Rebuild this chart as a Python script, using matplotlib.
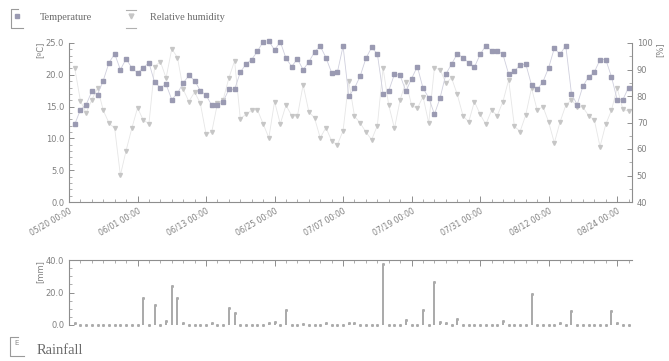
import numpy as np
import pandas as pd
import matplotlib
matplotlib.use("Agg")
import matplotlib.pyplot as plt
import matplotlib.dates as mdates
from matplotlib.lines import Line2D

# ---------------- data ----------------
start_date = "2015-05-21"
n_days = 98
temperature = [12.2, 14.5, 15.3, 17.4, 16.9, 19.1, 21.9, 23.3, 20.8, 22.5,
               21.1, 20.3, 21.1, 21.9, 18.8, 18.0, 18.5, 16.1, 17.1, 18.7,
               19.9, 19.1, 17.5, 16.8, 15.2, 15.3, 15.8, 17.7, 17.7, 20.4,
               21.7, 22.4, 23.7, 25.2, 25.3, 23.9, 25.2, 22.6, 21.3, 22.5,
               20.8, 22.0, 23.6, 24.5, 22.7, 20.3, 20.4, 24.5, 16.6, 17.9,
               19.8, 22.6, 24.3, 23.3, 17.0, 17.5, 20.1, 19.9, 17.4, 19.4,
               21.3, 17.9, 16.4, 13.8, 16.4, 20.1, 21.7, 23.3, 22.7, 21.9,
               21.2, 23.2, 24.6, 23.8, 23.8, 23.2, 20.1, 20.6, 21.5, 21.7,
               18.4, 17.7, 18.9, 21.1, 24.2, 23.2, 24.6, 17.0, 15.3, 18.2,
               19.7, 20.4, 22.4, 22.4, 19.7, 16.1, 16.1, 18.0]
humidity = [90.6, 78.2, 73.6, 78.6, 83.0, 74.6, 69.8, 67.8, 50.1, 59.4,
            67.8, 75.5, 71.0, 69.5, 91.1, 93.0, 86.8, 97.8, 94.5, 82.5,
            77.9, 81.5, 77.2, 65.7, 66.4, 77.2, 78.6, 86.8, 93.3, 71.4,
            73.1, 74.6, 74.8, 69.5, 64.2, 77.9, 69.5, 76.5, 72.6, 72.4,
            84.2, 74.1, 71.7, 64.2, 68.1, 63.0, 61.6, 66.9, 85.6, 72.4,
            69.8, 66.4, 63.5, 68.8, 90.6, 76.5, 67.8, 78.6, 85.4, 76.5,
            75.3, 79.8, 69.8, 90.6, 89.9, 84.9, 86.8, 80.6, 72.6, 70.2,
            77.9, 73.1, 69.3, 74.6, 72.6, 77.9, 86.1, 68.6, 66.6, 72.9,
            83.0, 74.6, 76.0, 70.2, 62.3, 70.2, 76.5, 78.6, 76.0, 75.8,
            72.6, 71.0, 60.9, 69.3, 74.6, 83.0, 75.0, 74.3]
rainfall = [1.5, 0, 0, 0, 0, 0, 0, 0, 0, 0,
            0, 0, 16.8, 0, 12.3, 0, 2.7, 24.0, 16.4, 1.0,
            0, 0, 0, 0, 1.0, 0, 0, 10.2, 7.2, 0,
            0, 0, 0, 0, 1.5, 2.0, 0, 9.2, 0, 0,
            0.5, 0, 0, 0, 1.2, 0, 0, 0, 1.5, 1.0,
            0, 0, 0, 0, 37.5, 0, 0, 0, 3.0, 0,
            0, 9.2, 0, 26.7, 2.0, 1.0, 0, 3.5, 0, 0,
            0, 0, 0, 0, 0, 2.5, 0, 0, 0, 0,
            18.9, 0, 0, 0, 0, 1.0, 0, 8.6, 0, 0,
            0, 0, 0, 0, 8.6, 1.0, 0, 0]
tick_start = "2015-05-20"
tick_step_days = 12
n_ticks = 9

dates = pd.date_range(start_date, periods=n_days, freq="D")
tick_dates = pd.date_range(tick_start, periods=n_ticks, freq=f"{tick_step_days}D")
x0 = pd.Timestamp(tick_start)
x1 = x0 + pd.Timedelta(days=98.6)

# ---------------- style ----------------
W, H = 669, 361
fig = plt.figure(figsize=(W / 100, H / 100), dpi=100)
spine_c = "#8e8e8e"
lab_c = "#808080"
temp_c = "#9a9ab2"
temp_line = "#cfcfdd"
hum_c = "#c6c6c6"
hum_line = "#e6e6e6"
rain_c = "#ababab"

def fx(px):
    return px / W

def fy(py):
    return 1 - py / H

# ---------------- top panel ----------------
ax = fig.add_axes([fx(69), fy(202), fx(632) - fx(69), fy(43) - fy(202)])
ax2 = ax.twinx()

ax2.plot(dates, humidity, color=hum_line, lw=0.6, zorder=1)
ax2.plot(dates, humidity, ls="none", marker="v", ms=2.8, mfc=hum_c, mec=hum_c,
         clip_on=False, zorder=2)
ax.plot(dates, temperature, color=temp_line, lw=0.6, zorder=3)
ax.plot(dates, temperature, ls="none", marker="s", ms=2.3, mfc=temp_c, mec=temp_c,
        clip_on=False, zorder=4)
ax.set_zorder(ax2.get_zorder() + 1)
ax.patch.set_visible(False)

ax.set_xlim(x0, x1)
ax.set_ylim(0, 25)
ax2.set_ylim(40, 100)
ax.set_yticks(np.arange(0, 25.1, 5))
ax.set_yticks(np.arange(0, 25.1, 1), minor=True)
ax.set_yticklabels([f"{v:.1f}" for v in np.arange(0, 25.1, 5)])
ax2.set_yticks(np.arange(40, 101, 10))
ax2.set_yticks(np.arange(40, 101, 5), minor=True)

ax.set_xticks(tick_dates)
ax.xaxis.set_minor_locator(mdates.DayLocator(interval=2))
ax.xaxis.set_major_formatter(mdates.DateFormatter("%m/%d %H:%M"))
for lbl in ax.get_xticklabels():
    lbl.set_rotation(30)
    lbl.set_ha("right")
    lbl.set_rotation_mode("anchor")

for a in (ax, ax2):
    a.spines["top"].set_visible(False)
    for s in a.spines.values():
        s.set_color(spine_c)
        s.set_linewidth(0.8)
ax.spines["right"].set_visible(False)
ax2.spines["left"].set_visible(False)
ax2.spines["bottom"].set_visible(False)

ax.tick_params(axis="both", which="both", direction="in", colors=spine_c,
               labelcolor=lab_c, labelsize=6)
ax.tick_params(axis="y", which="major", length=3.5, width=0.7)
ax.tick_params(axis="y", which="minor", length=2, width=0.5)
ax.tick_params(axis="x", which="major", length=4, width=0.7, labelsize=5.6, pad=3)
ax.tick_params(axis="x", which="minor", length=2, width=0.5)
ax2.tick_params(axis="y", which="both", direction="in", colors=spine_c,
                labelcolor=lab_c, labelsize=6)
ax2.tick_params(axis="y", which="major", length=3.5, width=0.7)
ax2.tick_params(axis="y", which="minor", length=2, width=0.5)

fig.text(fx(40), fy(50), "[ºC]", rotation=90, fontsize=6, color=lab_c,
         ha="center", va="center")
fig.text(fx(660), fy(50), "[%]", rotation=90, fontsize=6, color=lab_c,
         ha="center", va="center")

# ---------------- rainfall panel ----------------
axr = fig.add_axes([fx(69), fy(325), fx(632) - fx(69), fy(260) - fy(325)])
axr.bar(dates, rainfall, width=0.35, color=rain_c, edgecolor="none", zorder=2)
axr.plot(dates, rainfall, ls="none", marker="s", ms=1.1, mfc=rain_c, mec=rain_c,
         clip_on=False, zorder=3)
axr.set_xlim(x0, x1)
axr.set_ylim(0, 40)
axr.set_yticks([0, 20, 40])
axr.set_yticklabels(["0.0", "20.0", "40.0"])
axr.set_yticks(np.arange(0, 41, 5), minor=True)
axr.xaxis.tick_top()
axr.set_xticks(tick_dates)
axr.xaxis.set_minor_locator(mdates.DayLocator(interval=2))
axr.tick_params(axis="x", which="both", labeltop=False, labelbottom=False,
                direction="in", colors=spine_c)
axr.tick_params(axis="x", which="major", length=4, width=0.7)
axr.tick_params(axis="x", which="minor", length=2, width=0.5)
axr.tick_params(axis="y", which="both", direction="in", colors=spine_c,
                labelcolor=lab_c, labelsize=6)
axr.tick_params(axis="y", which="major", length=3.5, width=0.7)
axr.tick_params(axis="y", which="minor", length=2, width=0.5)
axr.spines["bottom"].set_visible(False)
axr.spines["right"].set_visible(False)
for s in ("top", "left"):
    axr.spines[s].set_color(spine_c)
    axr.spines[s].set_linewidth(0.8)
axr.patch.set_visible(False)
fig.text(fx(40), fy(272), "[mm]", rotation=90, fontsize=6, color=lab_c,
         ha="center", va="center")

# ---------------- legend-like labels ----------------
def bracket(xl, yt, w, h, color="#9a9a9a"):
    fig.add_artist(Line2D([fx(xl + w * 0.6), fx(xl), fx(xl), fx(xl + w)],
                          [fy(yt), fy(yt), fy(yt + h), fy(yt + h)],
                          color=color, lw=0.8))

bracket(11, 9, 12, 19)
fig.add_artist(Line2D([fx(17)], [fy(16)], marker="s", ms=3.5, color=temp_c, ls="none"))
fig.text(fx(40), fy(18), "Temperature", fontsize=7.5, family="Liberation Serif",
         color="#6a6a6a", va="center")
fig.add_artist(Line2D([fx(126), fx(136)], [fy(10), fy(10)], color="#b0b0b0", lw=0.8))
fig.add_artist(Line2D([fx(126), fx(136)], [fy(28), fy(28)], color="#b0b0b0", lw=0.8))
fig.add_artist(Line2D([fx(131)], [fy(16)], marker="v", ms=3.5, color=hum_c, ls="none"))
fig.text(fx(150), fy(18), "Relative humidity", fontsize=7.5, family="Liberation Serif",
         color="#6a6a6a", va="center")

bracket(10, 337, 14, 19)
fig.text(fx(17), fy(343), "E", fontsize=5, color="#8a8a8a", rotation=0,
         ha="center", va="center")
fig.text(fx(37), fy(350), "Rainfall", fontsize=10.5, family="Liberation Serif",
         color="#6a6a6a", va="center")

fig.savefig("out.png", dpi=100)
